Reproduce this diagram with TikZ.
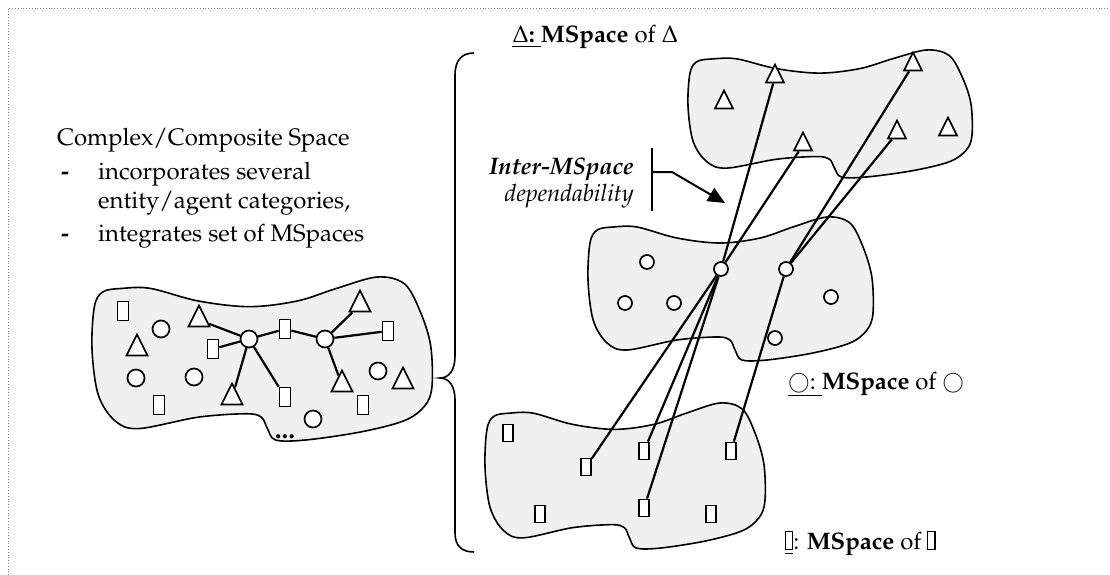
\documentclass[tikz,border=0pt]{standalone}
\usepackage[T1]{fontenc}
\usepackage{mathpazo}
\usetikzlibrary{shapes.geometric,arrows.meta}
\definecolor{blobfill}{HTML}{F0F0F0}
\newcommand\tofu{{\setlength{\fboxsep}{0pt}\setlength{\fboxrule}{1.1pt}\fbox{\rule{0pt}{17pt}\hspace{6pt}}}}
\newcommand\whitecirc{\raisebox{1pt}{\scalebox{0.85}{$\bigcirc$}}}
\tikzset{
  blobpath/.pic={
    \path[blob] plot[smooth cycle, tension=0.55] coordinates {
      (0.172,0.070) (0.312,0.147) (0.463,0.182) (0.604,0.147) (0.719,0.070)
      (0.839,0.0) (0.919,0.042) (0.965,0.210) (0.996,0.420) (1.0,0.671)
      (0.979,0.790) (0.919,0.881) (0.789,0.951) (0.628,1.0) (0.540,1.0)
      (0.516,0.930) (0.498,0.860) (0.453,0.839) (0.312,0.860) (0.137,0.930)
      (0.067,0.881) (0.018,0.720) (0.0,0.441) (0.007,0.182) (0.032,0.091)
      (0.088,0.070)};
  }
}
\begin{document}
\begin{tikzpicture}[x=1pt,y=-1pt,
  blob/.style={draw, line width=1.6pt, fill=blobfill},
  conn/.style={draw, line width=2.2pt},
  ent/.style={draw, line width=1.7pt, fill=white, inner sep=0pt},
  rectL/.style={ent, rectangle, minimum width=11pt, minimum height=19pt},
  rectS/.style={ent, rectangle, minimum width=10pt, minimum height=17pt},
  circL/.style={ent, circle, minimum size=17pt},
  circS/.style={ent, circle, minimum size=14pt},
  triL/.style={ent, isosceles triangle, isosceles triangle stretches, shape border rotate=90, minimum width=21pt, minimum height=21pt},
  triS/.style={ent, isosceles triangle, isosceles triangle stretches, shape border rotate=90, minimum width=18pt, minimum height=18pt},
  txt/.style={font=\fontsize{23.9}{28}\selectfont, inner sep=0pt},
]
\useasboundingbox (0,0) rectangle (1110,575);
\draw[gray, dotted, line width=0.8pt] (8,575) -- (8,8) -- (1110,8);

% left text
\node[txt, anchor=base west] (title) at (57,145) {Complex/Composite Space};
\node[txt, anchor=base west, font=\fontsize{23.9}{28}\selectfont\bfseries] (d1) at (61,179) {-};
\node[txt, anchor=base west] (l1) at (98,179) {incorporates several};
\node[txt, anchor=base west] (l2) at (98,208) {entity/agent categories,};
\node[txt, anchor=base west, font=\fontsize{23.9}{28}\selectfont\bfseries] (d2) at (61,241) {-};
\node[txt, anchor=base west] (l3) at (98,241) {integrates set of MSpaces};

% blobs
\begin{scope}[shift={(92,277)}, x=340pt, y=-163pt] \pic {blobpath}; \end{scope}
\begin{scope}[shift={(688,50)}, x=284pt, y=-127pt] \pic {blobpath}; \end{scope}
\begin{scope}[shift={(588,217)}, x=285pt, y=-143pt] \pic {blobpath}; \end{scope}
\begin{scope}[shift={(485,403)}, x=280pt, y=-145pt] \pic {blobpath}; \end{scope}

% brace
\draw[line width=1.6pt] (474,53) .. controls (462,53) and (455,60) .. (455,75) -- (455,356)
  .. controls (455,370) and (449,378) .. (440,378)
  .. controls (449,378) and (455,386) .. (455,400) -- (455,533)
  .. controls (455,546) and (462,552) .. (474,552);

% left blob entities
\node[rectL] (lr1) at (123,311) {};
\node[rectL] (lr2) at (213,349) {};
\node[rectL] (lr3) at (285,329) {};
\node[rectL] (lr4) at (388,331) {};
\node[rectL] (lr5) at (285,397) {};
\node[rectL] (lr6) at (159,405) {};
\node[rectL] (lr7) at (363,405) {};
\node[circL] (lc1) at (161,329) {};
\node[circL] (lh1) at (249,339) {};
\node[circL] (lh2) at (325,339) {};
\node[circL] (lc2) at (136,378) {};
\node[circL] (lc3) at (194,377) {};
\node[circL] (lc4) at (378,371) {};
\node[circL] (lc5) at (313,419) {};
\node[triL] (lt1) at (199,320) {};
\node[triL] (lt2) at (137,349) {};
\node[triL] (lt3) at (232,398) {};
\node[triL] (lt4) at (360,305) {};
\node[triL] (lt5) at (342,385) {};
\node[triL] (lt6) at (403,382) {};
\node[txt, anchor=base, font=\fontsize{27}{30}\selectfont\bfseries] (dots) at (285,438) {...};

\path[conn] (lh1) -- (lt1);
\path[conn] (lh1) -- (lr2);
\path[conn] (lh1) -- (lr3);
\path[conn] (lh1) -- (lt3);
\path[conn] (lh1) -- (lr5);
\path[conn] (lh2) -- (lr3);
\path[conn] (lh2) -- (lt4);
\path[conn] (lh2) -- (lr4);
\path[conn] (lh2) -- (lt5);

% top blob triangles
\node[triS] (tt1) at (775,77) {};
\node[triS] (tt2) at (913,65) {};
\node[triS] (tt3) at (724,103) {};
\node[triS] (tt4) at (803,145) {};
\node[triS] (tt5) at (897,133) {};
\node[triS] (tt6) at (948,130) {};

% middle blob circles
\node[circS] (mc1) at (647,262) {};
\node[circS] (mc2) at (625,303) {};
\node[circS] (mc3) at (674,303) {};
\node[circS] (mh1) at (721,269) {};
\node[circS] (mh2) at (786,269) {};
\node[circS] (mc4) at (831,297) {};
\node[circS] (mc5) at (775,338) {};

% bottom blob rectangles
\node[rectS] (br1) at (508,433) {};
\node[rectS] (br2) at (586,467) {};
\node[rectS] (br3) at (644,451) {};
\node[rectS] (br4) at (731,451) {};
\node[rectS] (br5) at (540,514) {};
\node[rectS] (br6) at (644,508) {};
\node[rectS] (br7) at (711,514) {};

\path[conn] (mh1) -- (tt1);
\path[conn] (mh1) -- (tt4);
\path[conn] (mh2) -- (tt2);
\path[conn] (mh2) -- (tt5);
\path[conn] (mh1) -- (br2);
\path[conn] (mh1) -- (br3);
\path[conn] (mh1) -- (br6);
\path[conn] (mh2) -- (br4);

% labels
\node[txt, anchor=base west] (hdT) at (512,43) {\underline{$\Delta$\textbf{:}\ }\textbf{MSpace} of $\Delta$};
\node[txt, anchor=base west] (hdC) at (788,389) {\underline{\whitecirc:\ }\textbf{MSpace} of \whitecirc};
\node[txt, anchor=base west] (hdR) at (785,549) {\underline{\tofu}: \textbf{MSpace} of \tofu};

% inter-MSpace
\node[txt, anchor=base east, font=\fontsize{23.9}{28}\selectfont\bfseries\itshape] (inter) at (634,174) {Inter-MSpace};
\node[txt, anchor=base east, font=\fontsize{23.9}{28}\selectfont\itshape] (dep) at (634,201) {dependability};
\coordinate (barT) at (652,148);
\coordinate (barB) at (652,211);
\coordinate (barM) at (652,172);
\coordinate (knee) at (672,172);
\coordinate (tipA) at (725,203);
\draw[line width=2pt] (barT) -- (barB);
\draw[line width=2pt, -{Triangle[length=17pt,width=15pt]}] (barM) -- (knee) -- (tipA);
\end{tikzpicture}
\end{document}
